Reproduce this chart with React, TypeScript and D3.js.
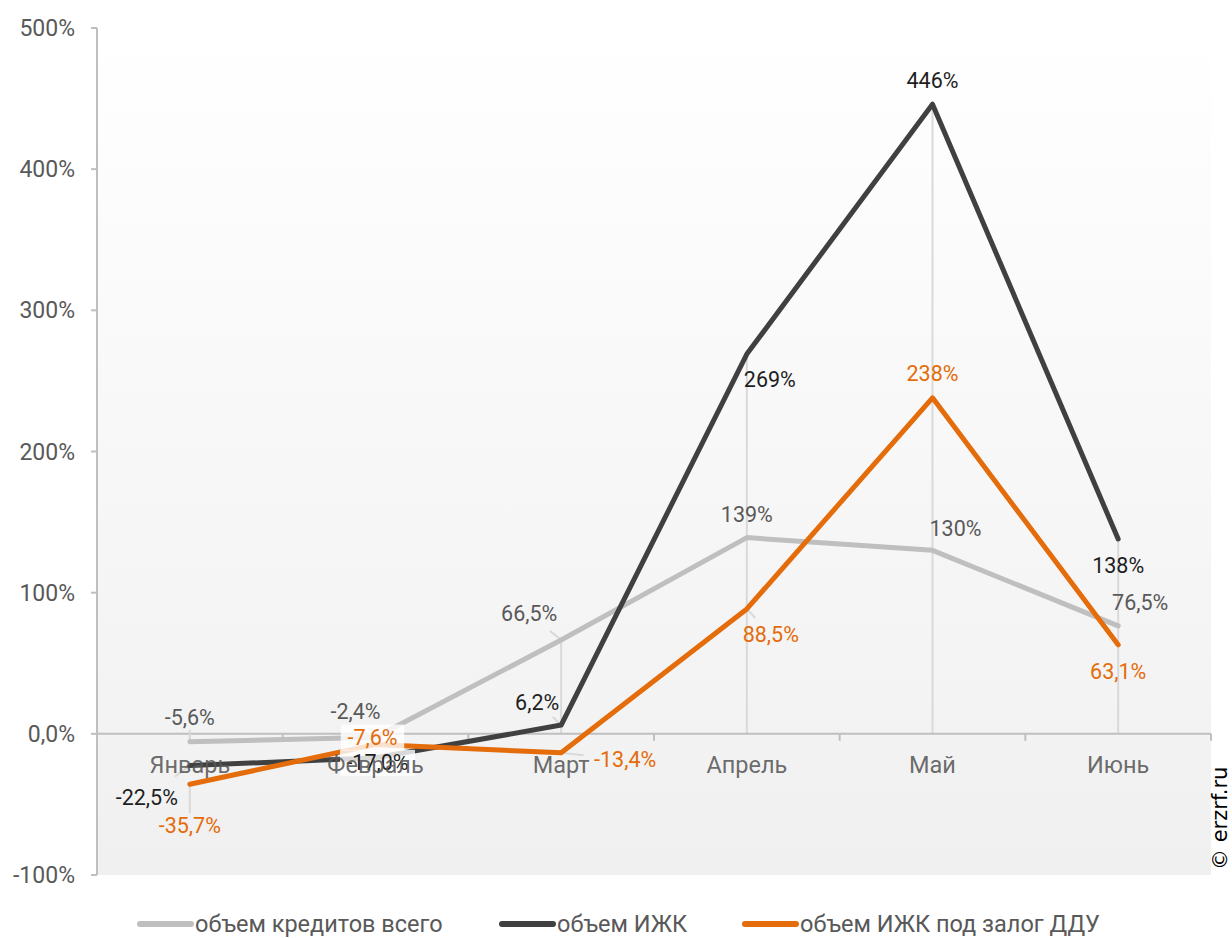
import React from 'react';
import * as d3 from 'd3';

// Данные
const months = ['Январь', 'Февраль', 'Март', 'Апрель', 'Май', 'Июнь'];
const totalCredit = [-5.6, -2.4, 66.5, 139, 130, 76.5];
const izhk = [-22.5, -17.0, 6.2, 269, 446, 138];
const izhkDdu = [-35.7, -7.6, -13.4, 88.5, 238, 63.1];
const yTicks = [-100, 0, 100, 200, 300, 400, 500];
const yTickLabels = ['-100%', '0,0%', '100%', '200%', '300%', '400%', '500%'];
const seriesNames = ['объем кредитов всего', 'объем ИЖК', 'объем ИЖК под залог ДДУ'];

// Смещения подписей (dx, dy от точки), признак выноски
const labelOffsets = [
  [[0, -24, 1], [-20, -26, 1], [-32, -26, 1], [0, -23, 0], [23, -22, 0], [22, -23, 0]],
  [[-43, 32, 1], [2, 5, 0], [-24, -23, 1], [23, 25, 0], [0, -24, 0], [0, 26, 0]],
  [[0, 41, 1], [-3, -7, 0], [64, 7, 1], [24, 26, 1], [0, -24, 0], [0, 27, 0]],
];
const boxed = [[], [1], [1]];

const W = 1232;
const H = 938;
const margin = { top: 28, right: 21, bottom: 63, left: 97 };
const font = 'Roboto, "Noto Sans", sans-serif';

const lineColors = ['#bfbfbf', '#404040', '#e46c0a'];
const labelColors = ['#595959', '#1e1e1e', '#e46c0a'];

function fmt(v: number) {
  if (Math.abs(v) >= 100) return `${Math.round(v)}%`;
  return `${v.toFixed(1).replace('.', ',')}%`;
}

export default function App() {
  const series = [totalCredit, izhk, izhkDdu];

  const x = d3
    .scaleBand<string>()
    .domain(months)
    .range([margin.left, W - margin.right]);
  const cx = (m: string) => (x(m) as number) + x.bandwidth() / 2;

  const y = d3
    .scaleLinear()
    .domain([-100, 500])
    .range([H - margin.bottom, margin.top]);

  const line = d3
    .line<number>()
    .x((_, i) => cx(months[i]))
    .y((d) => y(d));

  const plotTop = margin.top;
  const plotBottom = H - margin.bottom;
  const plotLeft = margin.left;
  const plotRight = W - margin.right;

  // границы категорий для засечек
  const catEdges = months.map((m) => (x(m) as number) + x.bandwidth());

  const labelW = (t: string) => t.length * 11.5;

  return (
    <svg
      width={W}
      height={H}
      style={{ position: 'absolute', left: 0, top: 0, background: '#fff' }}
      fontFamily={font}
    >
      <defs>
        <linearGradient id="plotBg" x1="0" y1="0" x2="0" y2="1">
          <stop offset="0%" stopColor="#ffffff" />
          <stop offset="100%" stopColor="#f0f0f0" />
        </linearGradient>
      </defs>

      {/* фон области построения */}
      <rect
        x={plotLeft}
        y={plotTop}
        width={plotRight - plotLeft}
        height={plotBottom - plotTop}
        fill="url(#plotBg)"
      />

      {/* линии проекции */}
      {months.map((m, i) => {
        const maxV = Math.max(...series.map((s) => s[i]));
        return (
          <line
            key={'drop' + m}
            x1={cx(m)}
            x2={cx(m)}
            y1={y(maxV)}
            y2={y(0)}
            stroke="#d9d9d9"
            strokeWidth={2}
          />
        );
      })}

      {/* ось Y */}
      <line x1={plotLeft} x2={plotLeft} y1={plotTop} y2={plotBottom} stroke="#bfbfbf" strokeWidth={2} />
      {yTicks.map((t, i) => (
        <g key={'yt' + t}>
          <line x1={plotLeft - 6} x2={plotLeft} y1={y(t)} y2={y(t)} stroke="#bfbfbf" strokeWidth={2} />
          <text
            x={plotLeft - 22}
            y={y(t)}
            dy="0.35em"
            textAnchor="end"
            fontSize={23}
            fill="#595959"
          >
            {yTickLabels[i]}
          </text>
        </g>
      ))}

      {/* ось X */}
      <line x1={plotLeft} x2={plotRight} y1={y(0)} y2={y(0)} stroke="#bfbfbf" strokeWidth={2} />
      {catEdges.map((e, i) => (
        <line key={'xt' + i} x1={e} x2={e} y1={y(0)} y2={y(0) + 7} stroke="#bfbfbf" strokeWidth={2} />
      ))}

      {/* выноски подписей */}
      {series.map((s, si) =>
        s.map((v, i) => {
          const [dx, dy, lead] = labelOffsets[si][i];
          if (!lead) return null;
          const px = cx(months[i]);
          const py = y(v);
          const hw = labelW(fmt(v)) / 2 + 2;
          const hh = 12;
          const k = Math.min(
            dx !== 0 ? Math.max(0, (Math.abs(dx) - hw) / Math.abs(dx)) : 1,
            dy !== 0 ? Math.max(0, (Math.abs(dy) - hh) / Math.abs(dy)) : 1
          );
          const kk =
            dx === 0
              ? (Math.abs(dy) - hh) / Math.abs(dy)
              : dy === 0
              ? (Math.abs(dx) - hw) / Math.abs(dx)
              : Math.max(k, 0.35);
          return (
            <line
              key={'ld' + si + i}
              x1={px}
              y1={py}
              x2={px + dx * kk}
              y2={py + dy * kk}
              stroke="#d9d9d9"
              strokeWidth={2}
            />
          );
        })
      )}

      {/* линии рядов */}
      {series.map((s, si) => (
        <path
          key={'ln' + si}
          d={line(s) as string}
          fill="none"
          stroke={lineColors[si]}
          strokeWidth={5}
          strokeLinejoin="round"
          strokeLinecap="round"
        />
      ))}

      {/* подписи данных */}
      {series.map((s, si) =>
        s.map((v, i) => {
          const [dx, dy] = labelOffsets[si][i];
          const t = fmt(v);
          const lx = cx(months[i]) + dx;
          const ly = y(v) + dy;
          const isBox = boxed[si].includes(i);
          return (
            <g key={'dl' + si + i}>
              {isBox && (
                <rect
                  x={lx - labelW(t) / 2 - 3}
                  y={ly - 13}
                  width={labelW(t) + 6}
                  height={26}
                  fill="#ffffff"
                  fillOpacity={0.8}
                />
              )}
              <text x={lx} y={ly} dy="0.35em" textAnchor="middle" fontSize={21.5} fill={labelColors[si]}>
                {t}
              </text>
            </g>
          );
        })
      )}

      {/* подписи категорий */}
      {months.map((m) => (
        <text
          key={'xl' + m}
          x={cx(m)}
          y={y(0) + 31}
          dy="0.35em"
          textAnchor="middle"
          fontSize={23.5}
          fill="#595959"
          fillOpacity={0.9}
        >
          {m}
        </text>
      ))}

      {/* легенда */}
      {(() => {
        const starts = [137, 499, 742];
        return seriesNames.map((n, si) => (
          <g key={'lg' + si} transform={`translate(${starts[si]},924)`}>
            <line x1={3} x2={54} y1={0} y2={0} stroke={lineColors[si]} strokeWidth={6} strokeLinecap="round" />
            <text x={58} y={0} dy="0.35em" fontSize={23.5} fill="#595959">
              {n}
            </text>
          </g>
        ));
      })()}

      {/* водяной знак */}
      <text
        transform={`translate(1227,${870}) rotate(-90)`}
        fontSize={21}
        fill="#000"
        fontFamily={'"DejaVu Sans", sans-serif'}
      >
        © erzrf.ru
      </text>
    </svg>
  );
}
